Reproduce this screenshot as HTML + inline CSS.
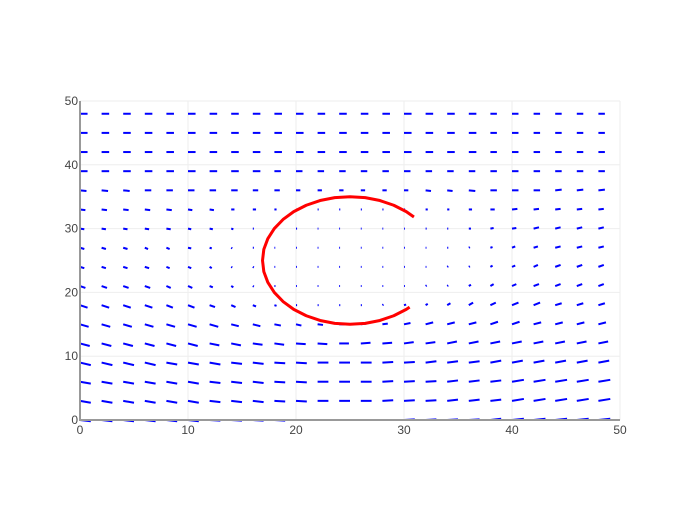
<!DOCTYPE html>
<html><head><meta charset="utf-8"><style>
body{margin:0;background:#fff}
svg text{font-family:"Liberation Sans",sans-serif;font-size:12px;fill:#444}
</style></head><body>
<svg id="chart" width="700" height="500" xmlns="http://www.w3.org/2000/svg">
<g id="grid"></g>
<g id="arrows"></g>
<g id="curve"></g>
<g id="axes"></g>
</svg>
<script>
const xCols=[0,2,4,6,8,10,12,14,16,18,20,22,24,26,28,30,32,34,36,38,40,42,44,46,48];
const yRows=[0,3,6,9,12,15,18,21,24,27,30,33,36,39,42,45,48];
const dxTenths=[
"10 10 10 10 10 10 10 10 10 10 10 10 10 10 10 10 10 10 10 10 11 11 11 11 11",
"10 10 10 10 10 10 10 10 10 10 10 10 10 10 10 10 10 10 10 10 11 11 11 11 11",
"10 10 10 10 10 10 10 10 10 10 10 10 10 10 10 10 10 10 10 10 11 11 11 11 11",
"10 10 10 10 10 10 10 10 10 10 10 10 10 10 10 10 10 10 10 10 10 10 10 10 10",
"9 9 9 9 9 9 9 9 9 9 9 9 9 9 9 9 9 9 9 9 9 9 9 9 9",
"8 8 8 8 8 8 8 7 7 6 5 5 5 5 5 6 7 7 7 7 7 7 7 7 7",
"7 7 7 7 6 6 5 4 3 2 1 1 1 1 1 2 2 3 4 5 6 6 6 6 6",
"5 5 5 5 4 4 3 2 1 1 0 0 0 0 0 0 1 1 2 3 4 5 5 5 5",
"4 4 4 4 3 3 2 1 1 0 0 0 0 0 0 0 0 1 1 2 3 4 5 5 5",
"4 4 4 3 3 3 2 1 1 0 0 0 0 0 0 0 0 1 1 2 3 4 5 5 5",
"4 4 4 4 4 3 3 2 1 1 1 0 0 0 0 0 1 1 2 3 4 5 5 5 5",
"5 5 5 5 5 4 4 3 3 2 1 1 1 1 1 1 2 2 3 4 5 5 5 5 5",
"6 6 6 6 6 6 6 6 5 5 4 4 4 4 4 4 5 5 6 6 6 6 6 6 6",
"7 7 7 7 7 7 7 7 7 6 6 6 6 6 6 6 6 6 6 6 6 6 6 6 6",
"7 7 7 7 7 7 7 7 7 7 7 7 7 7 7 7 7 7 7 6 6 6 6 6 6",
"7 7 7 7 7 7 7 7 7 7 7 7 7 7 7 7 7 7 7 6 6 6 6 6 6",
"7 7 7 7 7 7 7 7 7 7 7 7 7 7 7 7 7 7 7 6 6 6 6 6 6"];
const dyTenths=[
"-2 -2 -2 -2 -2 -2 -1 -1 -1 -1 0 0 0 0 0 1 1 1 1 2 2 2 2 2 2",
"-3 -3 -3 -3 -3 -3 -2 -2 -2 -1 -1 0 0 0 1 1 1 2 2 2 3 3 3 3 3",
"-3 -3 -3 -3 -3 -3 -2 -2 -2 -1 -1 0 0 0 1 1 1 2 2 2 3 3 3 3 3",
"-4 -4 -4 -4 -3 -3 -3 -2 -2 -1 -1 0 0 0 1 1 2 2 2 3 3 3 3 3 3",
"-4 -4 -4 -4 -4 -4 -3 -3 -2 -2 -1 -1 0 1 1 2 2 3 3 3 3 3 3 3 3",
"-4 -4 -4 -4 -4 -4 -4 -3 -3 -2 -2 -1 0 1 1 2 3 3 3 4 4 3 3 3 3",
"-4 -4 -4 -4 -4 -4 -3 -3 -2 -1 0 0 0 0 1 1 2 3 4 4 4 4 3 3 3",
"-3 -3 -3 -3 -3 -3 -2 -2 -1 0 0 0 0 0 0 0 1 1 2 3 3 3 3 3 3",
"-2 -2 -2 -2 -2 -2 -2 -1 -1 0 0 0 0 0 0 0 0 1 1 2 2 3 3 3 3",
"-2 -2 -2 -2 -2 -1 -1 -1 0 0 0 0 0 0 0 0 0 0 1 1 2 2 2 2 2",
"-1 -1 -1 -1 -1 -1 -1 -1 0 0 0 0 0 0 0 0 0 0 0 1 1 2 2 2 2",
"-1 -1 -1 -1 -1 -1 -1 0 0 0 0 0 0 0 0 0 0 0 0 0 1 1 1 1 1",
"-1 -1 -1 0 0 0 0 0 0 0 0 0 0 0 0 0 -1 -1 -1 0 0 0 1 1 1",
"0 0 0 0 0 0 0 0 0 0 0 0 0 0 0 0 0 0 0 0 0 0 0 0 0",
"0 0 0 0 0 0 0 0 0 0 0 0 0 0 0 0 0 0 0 0 0 0 0 0 0",
"0 0 0 0 0 0 0 0 0 0 0 0 0 0 0 0 0 0 0 0 0 0 0 0 0",
"0 0 0 0 0 0 0 0 0 0 0 0 0 0 0 0 0 0 0 0 0 0 0 0 0"];
const curveX=[30.92,30.21,29.05,27.77,26.41,25,23.59,22.23,20.95,19.79,18.8,17.99,17.39,17.02,16.9,17.02,17.39,17.99,18.8,19.79,20.95,22.23,23.59,25,26.41,27.77,29.05,30.21,30.52];
const curveY=[31.82,32.66,33.66,34.4,34.85,35,34.85,34.4,33.66,32.66,31.43,30,28.42,26.74,25,23.26,21.58,20,18.57,17.34,16.34,15.6,15.15,15,15.15,15.6,16.34,17.34,17.69];
const xTicks=[0,10,20,30,40,50];
const yTicks=[0,10,20,30,40,50];

const NS="http://www.w3.org/2000/svg";
const X0=80,X1=620,Y0=420,Y1=101;
function sx(v){return X0+(v-0)/(50-0)*(X1-X0);}
function sy(v){return Y0-(v-0)/(50-0)*(Y0-Y1);}
function mk(tag,attrs,parent){const e=document.createElementNS(NS,tag);for(const k in attrs)e.setAttribute(k,attrs[k]);parent.appendChild(e);return e;}

const grid=document.getElementById('grid');
xTicks.forEach(t=>{if(t===0)return;const l=mk('line',{x1:sx(t),x2:sx(t),y1:Y1,y2:Y0,stroke:'#eee','stroke-width':1},grid);

});
yTicks.forEach(t=>{if(t===0)return;const l=mk('line',{x1:X0,x2:X1,y1:sy(t),y2:sy(t),stroke:'#eee','stroke-width':1},grid);

});

const arrows=document.getElementById('arrows');
yRows.forEach((y,i)=>{
  const dxs=dxTenths[i].split(' ').map(Number),dys=dyTenths[i].split(' ').map(Number);
  xCols.forEach((x,j)=>{
    const dx=dxs[j]/10,dy=dys[j]/10;
    const l=mk('line',{x1:sx(x),y1:sy(y),x2:sx(x+Math.max(dx,0.08)),y2:sy(y+dy),stroke:'#0000ff','stroke-width':2},arrows);
    
    
  });
});

const curve=document.getElementById('curve');
const p=mk('polyline',{points:curveX.map((x,i)=>sx(x)+','+sy(curveY[i])).join(' '),fill:'none',stroke:'#ff0000','stroke-width':3,'stroke-linejoin':'round'},curve);



const axes=document.getElementById('axes');
const xa=mk('line',{x1:X0-1,x2:X1,y1:Y0,y2:Y0,stroke:'#999','stroke-width':2},axes);


const ya=mk('line',{x1:X0,x2:X0,y1:Y1,y2:Y0+1,stroke:'#999','stroke-width':2},axes);


xTicks.forEach(t=>{const tx=mk('text',{x:sx(t),y:Y0+14,'text-anchor':'middle'},axes);tx.textContent=t;

});
yTicks.forEach(t=>{const tx=mk('text',{x:X0-2,y:sy(t)+4,'text-anchor':'end'},axes);tx.textContent=t;

});
</script>
</body></html>
